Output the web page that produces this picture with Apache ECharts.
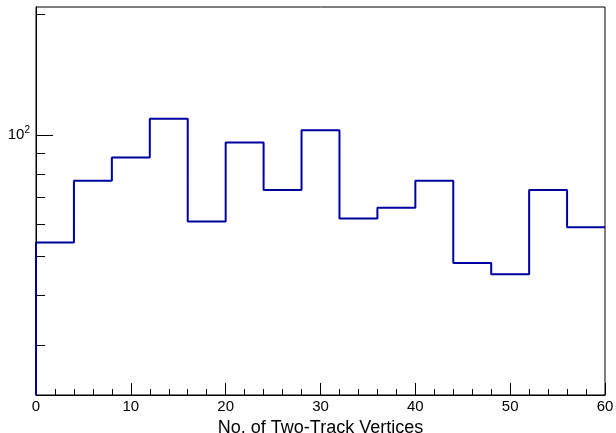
<!DOCTYPE html>
<html>
<head>
<meta charset="utf-8">
<script src="https://cdn.jsdelivr.net/npm/echarts@6/dist/echarts.min.js"></script>
<style>
  html, body { margin: 0; padding: 0; background: #fff; }
  #chart { width: 616px; height: 433px; }
</style>
</head>
<body>
<div id="chart"></div>
<script>
// bin edges of the histogram (width 4) and the counts per bin
const binEdges = [0, 4, 8, 12, 16, 20, 24, 28, 32, 36, 40, 44, 48, 52, 56, 60];
const counts = [54, 77, 88, 110, 61, 96, 73, 103, 62, 66, 77, 48, 45, 73, 59];
const yMin = 22.5;
const yMax = 209;
const minorTicksY = [30, 40, 50, 60, 70, 80, 90, 200];
const majorTicksY = [100];

// step line: start at the floor, then one point per bin edge
const stepData = [[binEdges[0], yMin]];
counts.forEach((c, i) => stepData.push([binEdges[i], c]));
stepData.push([binEdges[binEdges.length - 1], counts[counts.length - 1]]);

const font = 'Liberation Sans, Arial, Helvetica, sans-serif';
const chart = echarts.init(document.getElementById('chart'));

const yBase = {
  type: 'log',
  min: yMin,
  max: yMax,
  position: 'left',
  splitLine: { show: false },
  minorTick: { show: false },
  axisLine: { show: true, lineStyle: { color: '#000', width: 1 } }
};

chart.setOption({
  animation: false,
  grid: {
    left: 36, right: 11, top: 7, bottom: 38,
    outerBoundsMode: 'none',
    containLabel: false,
    show: true, borderColor: '#000', borderWidth: 1, backgroundColor: 'transparent'
  },
  xAxis: {
    type: 'value',
    min: 0,
    max: 60,
    interval: 10,
    name: 'No. of Two-Track Vertices',
    nameLocation: 'middle',
    nameGap: 16,
    nameTextStyle: { fontFamily: font, fontSize: 18, color: '#000' },
    axisLine: { lineStyle: { color: '#000', width: 1 } },
    axisTick: { inside: true, length: 12, lineStyle: { color: '#000' } },
    minorTick: { show: true, splitNumber: 5, length: 6, lineStyle: { color: '#000' } },
    splitLine: { show: false },
    axisLabel: { fontFamily: font, fontSize: 15, color: '#000', margin: 4 }
  },
  yAxis: [
    Object.assign({}, yBase, {
      axisTick: { show: true, inside: true, length: 9, customValues: minorTicksY, lineStyle: { color: '#000' } },
      axisLabel: { show: false }
    }),
    Object.assign({}, yBase, {
      axisTick: { show: true, inside: true, length: 17, customValues: majorTicksY, lineStyle: { color: '#000' } },
      axisLabel: {
        show: true,
        customValues: majorTicksY,
        margin: 6,
        formatter: () => '{a|10}{b|2}',
        rich: {
          a: { fontFamily: font, fontSize: 15, color: '#000' },
          b: { fontFamily: font, fontSize: 10, color: '#000', verticalAlign: 'top', padding: [0, 0, 10, 0] }
        }
      }
    })
  ],
  series: [{
    type: 'line',
    yAxisIndex: 0,
    step: 'end',
    data: stepData,
    symbol: 'none',
    lineStyle: { color: '#0000a0', width: 2 },
    clip: true
  }]
});
</script>
</body>
</html>
